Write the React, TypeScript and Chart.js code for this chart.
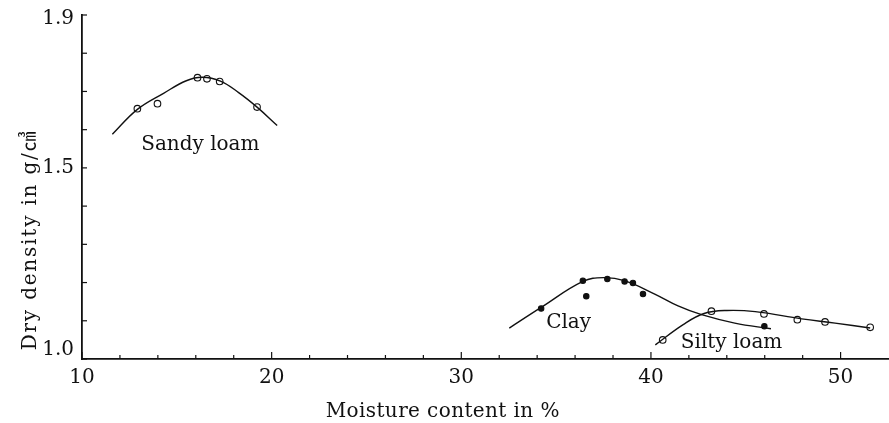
import React, { useEffect, useRef } from 'react';
import { Chart, registerables } from 'chart.js';

Chart.register(...registerables);

// ---- Data (moisture content %, dry density g/cm3) ----
const sandyLoamPointsX = [12.92, 13.98, 16.09, 16.59, 17.26, 19.23];
const sandyLoamPointsY = [1.655, 1.668, 1.736, 1.733, 1.726, 1.659];
const sandyLoamCurveX = [11.6, 12.92, 14.3, 15.5, 16.35, 17.3, 18.26, 19.23, 20.29];
const sandyLoamCurveY = [1.588, 1.653, 1.695, 1.728, 1.737, 1.727, 1.697, 1.659, 1.611];

const clayPointsX = [34.21, 36.41, 36.59, 37.7, 38.61, 39.05, 39.58, 45.98];
const clayPointsY = [1.132, 1.205, 1.164, 1.209, 1.203, 1.199, 1.17, 1.086];
const clayCurveX = [32.53, 34.21, 36.41, 37.5, 38.6, 40.2, 41.43, 42.67, 44.42, 46.33];
const clayCurveY = [1.081, 1.135, 1.203, 1.213, 1.205, 1.17, 1.139, 1.116, 1.094, 1.079];

const siltyLoamPointsX = [40.62, 43.19, 45.96, 47.72, 49.18, 51.56];
const siltyLoamPointsY = [1.05, 1.125, 1.118, 1.103, 1.097, 1.083];
const siltyLoamCurveX = [40.23, 41.7, 42.8, 44.0, 45.5, 47.95, 49.71, 51.56];
const siltyLoamCurveY = [1.037, 1.09, 1.119, 1.127, 1.124, 1.105, 1.094, 1.081];

const xLabelValues = [10, 20, 30, 40, 50];
const yLabelValues = ['1.0', '1.5', '1.9'];

const curveLabels = [
  { text: 'Sandy loam', x: 16.24, y: 1.547 },
  { text: 'Clay', x: 35.66, y: 1.081 },
  { text: 'Silty loam', x: 44.25, y: 1.03 },
];

const xTitle = 'Moisture content in %';
const yTitle = 'Dry density in g/㎤';

const FONT = '"DejaVu Serif", "Liberation Serif", "Noto Sans CJK JP", serif';

const zip = (xs: number[], ys: number[]) => xs.map((x, i) => ({ x, y: ys[i] }));

const curveDataset = (label: string, xs: number[], ys: number[]) => ({
  label,
  data: zip(xs, ys),
  showLine: true,
  borderColor: '#111',
  borderWidth: 1.4,
  pointRadius: 0,
  tension: 0.4,
  fill: false,
});

const pointDataset = (label: string, xs: number[], ys: number[], filled: boolean) => ({
  label,
  data: zip(xs, ys),
  showLine: false,
  pointRadius: filled ? 2.7 : 3.3,
  pointBorderWidth: 1.1,
  pointBorderColor: '#111',
  pointBackgroundColor: filled ? '#111' : '#fff',
});

const decorPlugin = {
  id: 'decor',
  afterDraw(chart: any) {
    const ctx = chart.ctx as CanvasRenderingContext2D;
    const { left, right, top, bottom } = chart.chartArea;
    const xs = chart.scales.x;
    const ys = chart.scales.y;
    ctx.save();
    ctx.strokeStyle = '#111';
    ctx.lineWidth = 1.2;
    // inward tick marks on x axis
    xs.ticks.forEach((t: any) => {
      const v = t.value;
      if (Math.abs(v / 2 - Math.round(v / 2)) > 1e-6) return;
      const px = xs.getPixelForValue(v);
      const major = Math.abs(v / 10 - Math.round(v / 10)) < 1e-6;
      ctx.beginPath();
      ctx.moveTo(px, bottom);
      ctx.lineTo(px, bottom - (major ? 7 : 4));
      ctx.stroke();
    });
    // inward tick marks on y axis
    ys.ticks.forEach((t: any) => {
      const py = ys.getPixelForValue(t.value);
      ctx.beginPath();
      ctx.moveTo(left, py);
      ctx.lineTo(left + 5, py);
      ctx.stroke();
    });
    // curve labels
    ctx.fillStyle = '#111';
    ctx.font = `20px ${FONT}`;
    ctx.textAlign = 'center';
    ctx.textBaseline = 'alphabetic';
    curveLabels.forEach((l) => {
      ctx.fillText(l.text, xs.getPixelForValue(l.x), ys.getPixelForValue(l.y));
    });
    // x-axis title
    (ctx as any).letterSpacing = '0.4px';
    ctx.fillText(xTitle, left + (right - left) * 0.4465, bottom + 58);
    // y-axis title
    (ctx as any).letterSpacing = '1.8px';
    ctx.translate(left - 46, top + (bottom - top) * 0.654);
    ctx.rotate(-Math.PI / 2);
    ctx.fillText(yTitle, 0, 0);
    (ctx as any).letterSpacing = '0px';
    ctx.restore();
  },
};

export default function App() {
  const canvasRef = useRef<HTMLCanvasElement | null>(null);

  useEffect(() => {
    if (!canvasRef.current) return;
    const chart = new Chart(canvasRef.current, {
      type: 'scatter',
      data: {
        datasets: [
          curveDataset('Sandy loam curve', sandyLoamCurveX, sandyLoamCurveY),
          curveDataset('Clay curve', clayCurveX, clayCurveY),
          curveDataset('Silty loam curve', siltyLoamCurveX, siltyLoamCurveY),
          pointDataset('Sandy loam', sandyLoamPointsX, sandyLoamPointsY, false),
          pointDataset('Clay', clayPointsX, clayPointsY, true),
          pointDataset('Silty loam', siltyLoamPointsX, siltyLoamPointsY, false),
        ] as any,
      },
      options: {
        animation: false,
        responsive: true,
        maintainAspectRatio: false,
        layout: { padding: { top: 15, right: 0, left: 0, bottom: 0 } },
        plugins: {
          legend: { display: false },
          tooltip: { enabled: false },
        },
        scales: {
          x: {
            type: 'linear',
            min: 10,
            max: 52.6,
            afterFit: (s: any) => { s.height = 64; },
            grid: { display: false, drawTicks: false },
            border: { display: true, color: '#111', width: 1.8 },
            ticks: {
              stepSize: 2,
              autoSkip: false,
              maxRotation: 0,
              padding: 0,
              color: '#111',
              font: { family: FONT, size: 20, lineHeight: '38px' } as any,
              callback: (v: any) => (xLabelValues.includes(Number(v)) ? String(v) : ''),
            },
          },
          y: {
            type: 'linear',
            min: 1.0,
            max: 1.9,
            afterFit: (s: any) => { s.width = 82; },
            grid: { display: false, drawTicks: false },
            border: { display: true, color: '#111', width: 1.8 },
            ticks: {
              stepSize: 0.1,
              autoSkip: false,
              padding: 8,
              color: '#111',
              font: (c: any) => {
                const s = c.tick ? Number(c.tick.value).toFixed(1) : '';
                return { family: FONT, size: 20, lineHeight: s === '1.0' ? '18px' : s === '1.9' ? '7px' : 1.2 } as any;
              },
              callback: (v: any) => {
                const s = Number(v).toFixed(1);
                if (!yLabelValues.includes(s)) return '';
                if (s === '1.0') return [s, ''];
                if (s === '1.9') return ['', s];
                return s;
              },
            },
          },
        },
      },
      plugins: [decorPlugin],
    });
    return () => chart.destroy();
  }, []);

  return (
    <div style={{ position: 'fixed', left: 0, top: 0, width: 895, height: 423, background: '#fff' }}>
      <canvas ref={canvasRef} />
    </div>
  );
}
